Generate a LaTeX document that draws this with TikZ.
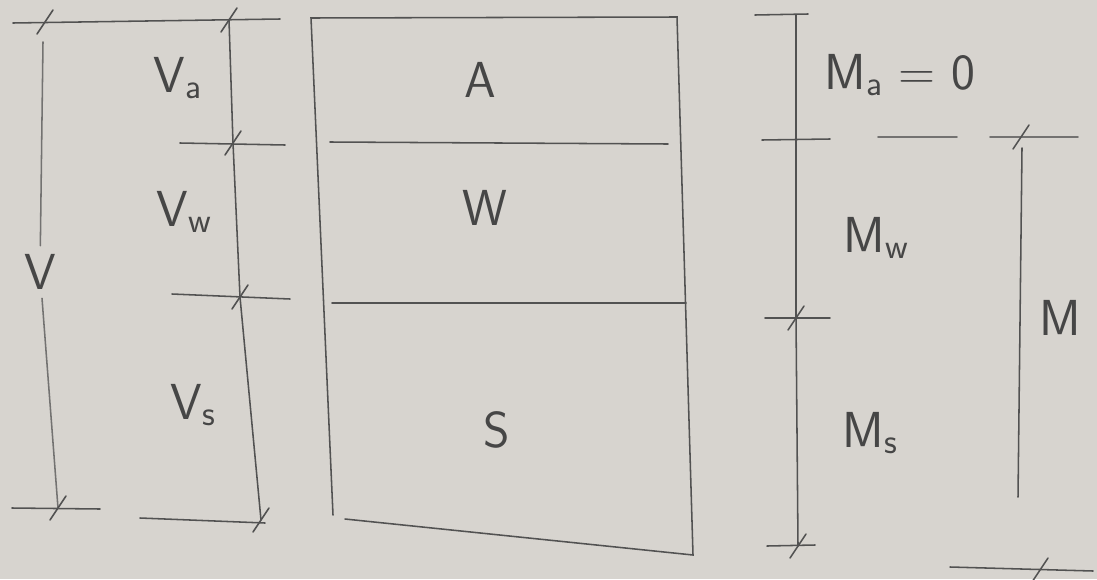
\documentclass[tikz,border=0pt]{standalone}
\definecolor{board}{RGB}{215,212,207}
\definecolor{pen}{RGB}{82,82,82}

\begin{document}
\begin{tikzpicture}[x=0.025cm, y=-0.025cm,
  stroke/.style={draw=pen, line width=1.1pt, line cap=round},
  faint/.style={draw=pen!75!board, line width=1.1pt, line cap=round},
  slash/.pic={\draw[stroke] (-8,12) -- (8,-12);},
  phase/.style={text=pen!85!black, font=\sffamily\fontsize{36}{40}\selectfont, inner sep=0pt},
  dimlbl/.style={phase, inner sep=6pt},
]
\fill[board] (0,0) rectangle (1097,579);
\useasboundingbox (0,0) rectangle (1097,579);

% phase column
\coordinate (tl) at (311,18);
\coordinate (tr) at (677,17);
\coordinate (bl) at (333,515);
\coordinate (bl2) at (345,519);
\coordinate (br) at (693,555);
\coordinate (aw-l) at (330,142);
\coordinate (aw-r) at (668,144);
\coordinate (ws-l) at (332,303);
\coordinate (ws-r) at (686,303);
\draw[stroke] (bl) -- (tl) -- (tr) -- (br) -- (bl2);
\draw[stroke] (aw-l) -- (aw-r);
\draw[stroke] (ws-l) -- (ws-r);
\node[phase] (A) at (480,80) {A};
\node[phase] (W) at (485,208) {W};
\node[phase] (S) at (497,430) {S};

% volumes
\coordinate (v-top) at (45,22);
\coordinate (v-bot) at (58,508);
\coordinate (va-top) at (229,20);
\coordinate (va-bot) at (233,143);
\coordinate (vs-top) at (240,297);
\coordinate (vs-bot) at (261,520);
\node[dimlbl] (V) at (40,272) {V};
\draw[stroke] (13,23) -- (280,19);
\draw[stroke] (180,143) -- (285,145);
\draw[stroke] (172,294) -- (290,299);
\draw[stroke] (140,518) -- (265,523);
\draw[stroke] (12,508) -- (100,509);
\draw[faint] (43,42) -- (V);
\draw[faint] (V) -- (v-bot);
\draw[stroke] (va-top) -- (va-bot) -- (vs-top) -- (vs-bot);
\foreach \c in {v-top,v-bot,va-top,va-bot,vs-top,vs-bot}
  \pic at (\c) {slash};
\node[phase] (Va) at (178,78) {V\textsubscript{a}};
\node[phase] (Vw) at (184,212) {V\textsubscript{w}};
\node[phase] (Vs) at (193,405) {V\textsubscript{s}};

% masses
\coordinate (m-top) at (796,15);
\coordinate (ma-bot) at (796,139);
\coordinate (mw-bot) at (796,318);
\coordinate (ms-bot) at (798,546);
\coordinate (m-all-top) at (1021,137);
\coordinate (m-all-bot) at (1040,570);
\draw[stroke] (755,15) -- (808,14);
\draw[stroke] (m-top) -- (ma-bot) -- (mw-bot) -- (ms-bot);
\draw[stroke] (762,140) -- (830,139);
\draw[faint] (878,137) -- (957,137);
\draw[faint] (990,137) -- (1078,137);
\draw[stroke] (765,318) -- (830,318);
\draw[stroke] (767,546) -- (815,545);
\draw[stroke] (950,567) -- (1093,571);
\draw[stroke] (1022,148) -- (1018,497);
\foreach \c in {mw-bot,ms-bot,m-all-top,m-all-bot}
  \pic at (\c) {slash};
\node[phase] (Ma) at (900,75) {M\textsubscript{a} = 0};
\node[phase] (Mw) at (876,238) {M\textsubscript{w}};
\node[phase] (Ms) at (870,433) {M\textsubscript{s}};
\node[phase] (M) at (1060,318) {M};
\end{tikzpicture}
\end{document}
